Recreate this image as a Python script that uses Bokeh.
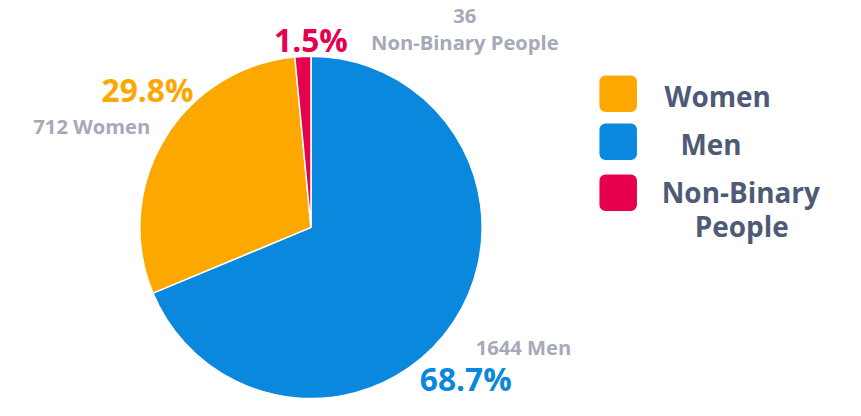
from bokeh.plotting import figure
from bokeh.models import Range1d, ColumnDataSource
from bokeh.core.properties import value
from bokeh.embed import file_html
from bokeh.resources import INLINE
import math

# ---- data ----
categories = ["Men", "Women", "Non-Binary People"]
counts = [1644, 712, 36]
colors = ["#0a88dd", "#fca800", "#e6004e"]
legend_order = ["Women", "Men", "Non-Binary People"]

FONT = "Open Sans"
GRAY = "#a5aab9"
DARK = "#4f5b76"

W, H = 845, 400
REF_W, REF_H = 861, 416
s = H / REF_H  # px per layout unit
half = W / s / 2
p = figure(width=W, height=H, output_backend="svg", toolbar_location=None,
           x_range=Range1d(REF_W / 2 - half, REF_W / 2 + half),
           y_range=Range1d(0, REF_H), min_border=0)
p.axis.visible = False
p.grid.visible = False
p.outline_line_color = None
p.background_fill_color = "white"

def Y(y):
    return REF_H - y

def fs(px):
    return f"{px * s:.1f}px"

cx, cy, r = 314, Y(236), 178
total = sum(counts)
starts, ends, fracs = [], [], []
a = math.pi / 2
for c in counts:
    f = c / total
    fracs.append(f)
    starts.append(a)
    a -= f * 2 * math.pi
    ends.append(a)

src = ColumnDataSource(dict(start=starts, end=ends, color=colors))
p.wedge(x=cx, y=cy, radius=r, start_angle="start", end_angle="end",
        direction="clock", fill_color="color", line_color="white",
        line_width=1.5, source=src)

pct_pos = {"Men": (475, 393), "Women": (144, 93), "Non-Binary People": (314, 41)}
cnt_pos = {"Men": (535, 360), "Women": (86, 130), "Non-Binary People": (474, 30)}

for cat, c, f, col in zip(categories, counts, fracs, colors):
    px, py = pct_pos[cat]
    p.text(x=[px], y=[Y(py)], text=[f"{f*100:.1f}%"], text_color=col,
           text_font=value(FONT), text_font_style="bold", text_font_size=fs(33),
           text_align="center", text_baseline="middle")
    qx, qy = cnt_pos[cat]
    if cat == "Non-Binary People":
        lines = [str(c), cat]
        for i, t in enumerate(lines):
            p.text(x=[qx], y=[Y(qy - 14 + i * 27)], text=[t], text_color=GRAY,
                   text_font=value(FONT), text_font_style="bold", text_font_size=fs(21),
                   text_align="center", text_baseline="middle")
    else:
        p.text(x=[qx], y=[Y(qy)], text=[f"{c} {cat}"], text_color=GRAY,
               text_font=value(FONT), text_font_style="bold", text_font_size=fs(21),
               text_align="center", text_baseline="middle")

leg_y = [97, 147, 200]
for name, ly in zip(legend_order, leg_y):
    col = colors[categories.index(name)]
    p.quad(left=[614], right=[653], bottom=[Y(ly + 19)], top=[Y(ly - 19)],
           fill_color=col, line_color=None, border_radius=6)
    if name == "Non-Binary People":
        p.text(x=[761], y=[Y(199)], text=["Non-Binary"], text_color=DARK,
               text_font=value(FONT), text_font_style="bold", text_font_size=fs(29),
               text_align="center", text_baseline="middle")
        p.text(x=[762], y=[Y(234)], text=["People"], text_color=DARK,
               text_font=value(FONT), text_font_style="bold", text_font_size=fs(29),
               text_align="center", text_baseline="middle")
    else:
        lx = 737 if name == "Women" else 730
        p.text(x=[lx], y=[Y(ly + 2)], text=[name], text_color=DARK,
               text_font=value(FONT), text_font_style="bold", text_font_size=fs(29),
               text_align="center", text_baseline="middle")

open("out.html", "w").write(file_html(p, INLINE))
